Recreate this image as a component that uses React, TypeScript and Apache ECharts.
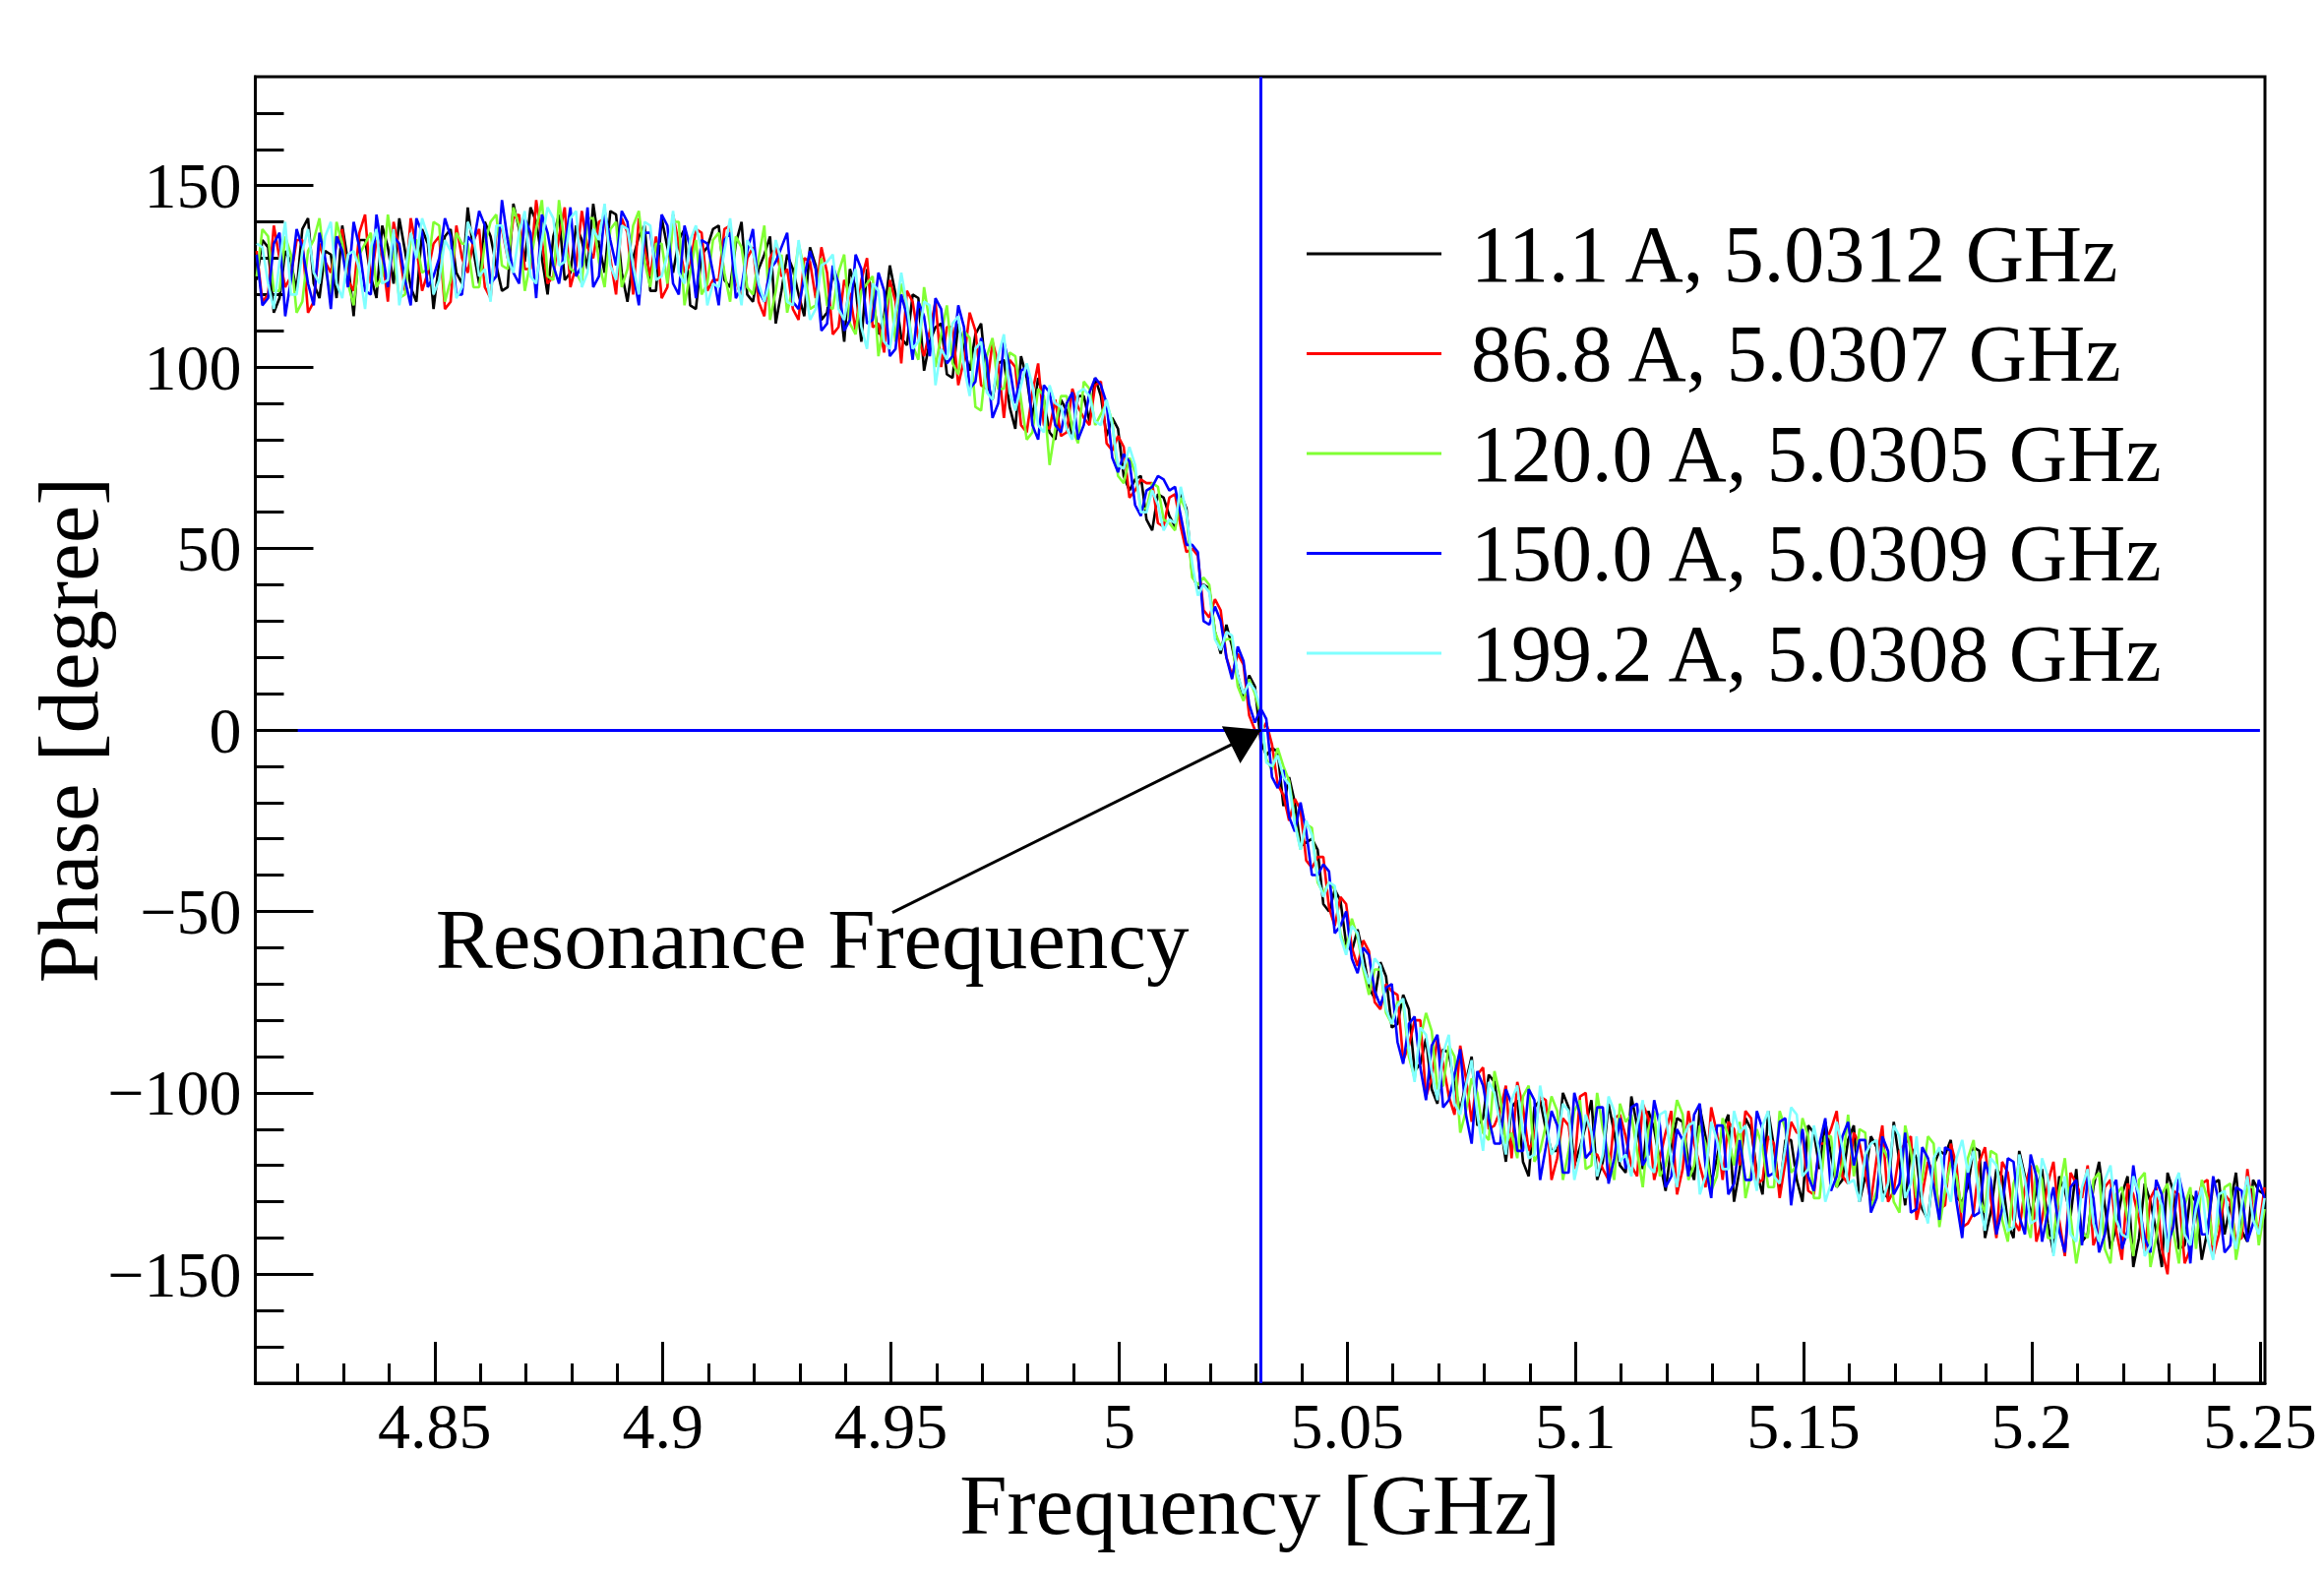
import React, { useEffect, useRef } from "react";
import * as echarts from "echarts";

// Frequency sweep grid (GHz): main samples at FREQ_START + i*FREQ_STEP,
// in-between samples at half a step further.
const FREQ_START = 4.811;
const FREQ_STEP = 0.0025;

const X_MIN = 4.8107;
const X_MAX = 5.2511;
const Y_MIN = -180;
const Y_MAX = 180;

const X_MAJOR = [4.85, 4.9, 4.95, 5, 5.05, 5.1, 5.15, 5.2, 5.25];
const Y_MAJOR = [-150, -100, -50, 0, 50, 100, 150];

const SERIES_NAMES = [
  "11.1 A, 5.0312 GHz",
  "86.8 A, 5.0307 GHz",
  "120.0 A, 5.0305 GHz",
  "150.0 A, 5.0309 GHz",
  "199.2 A, 5.0308 GHz",
];
const SERIES_COLORS = ["#000000", "#ff0000", "#80ff33", "#0000ff", "#80ffff"];

const RES_FREQ = 5.0311;
const ZERO_LINE_X = [4.82, 5.25];
const ARROW_TAIL = [4.9503, -50.3];
const ANNOT_POS = [4.8503, -57.8];
const ANNOT_TEXT = "Resonance Frequency";

// ---- 11.1 A (black)
const PHASE_11_1 = [
  124, 133, 119, 129, 138, 123, 132, 119, 129, 135,
  125, 139, 123, 132, 118, 134, 129, 138, 123, 132,
  140, 128, 122, 138, 144, 130, 136, 124, 139, 127,
  134, 143, 126, 130, 139, 121, 133, 135, 117, 131,
  138, 124, 134, 120, 127, 136, 121, 127, 114, 128,
  115, 121, 127, 107, 119, 114, 120, 106, 119, 107,
  112, 97, 105, 109, 96, 101, 89, 103, 86, 91,
  80, 88, 92, 85, 92, 86, 70, 69, 58, 65,
  59, 65, 43, 40, 27, 29, 15, 15, -3, -5,
  -21, -20, -31, -33, -50, -47, -61, -62, -74, -68,
  -81, -77, -92, -99, -88, -98, -97, -109, -95, -108,
  -104, -119, -104, -110, -116, -104, -115, -102, -119, -111,
  -122, -109, -105, -119, -115, -108, -124, -112, -118, -106,
  -121, -110, -128, -115, -113, -124, -109, -121, -117, -124,
  -109, -123, -115, -129, -119, -115, -132, -120, -117, -129,
  -126, -116, -133, -123, -140, -123, -127, -136, -123, -134,
  -141, -126, -131, -137, -123, -140, -130, -148, -127, -142,
  -130, -138, -124, -131, -138, -124, -128,
];
const PHASE_11_1_MID = [
  135, 115, 132, 121, 141, 119, 131, 139, 114, 135,
  119, 133, 141, 122, 138, 116, 136, 126, 144, 123,
  136, 121, 145, 129, 140, 120, 142, 126, 135, 145,
  126, 142, 118, 136, 121, 141, 126, 138, 116, 133,
  139, 122, 140, 118, 131, 112, 131, 120, 133, 113,
  126, 107, 122, 127, 109, 128, 108, 120, 99, 111,
  98, 112, 99, 112, 91, 102, 83, 97, 97, 82,
  91, 81, 92, 97, 81, 83, 66, 70, 55, 64,
  56, 61, 39, 39, 21, 23, 9, 12, -7, -6,
  -13, -32, -30, -48, -44, -59, -55, -71, -64, -82,
  -73, -94, -85, -103, -89, -105, -90, -107, -97, -119,
  -102, -123, -102, -116, -100, -120, -109, -124, -103, -120,
  -101, -121, -110, -127, -107, -119, -104, -125, -110, -130,
  -107, -122, -105, -127, -113, -130, -111, -108, -126, -113,
  -130, -112, -127, -108, -131, -118, -135, -116, -113, -130,
  -115, -140, -121, -136, -116, -134, -121, -144, -127, -121,
  -139, -119, -143, -128, -148, -125, -138, -122, -143, -128,
  -146, -125, -139, -122, -141, -127,
];

// ---- 86.8 A (red)
const PHASE_86_8 = [
  132, 120, 130, 125, 135, 118, 129, 134, 124, 137,
  123, 131, 140, 121, 133, 126, 136, 118, 130, 135,
  122, 137, 130, 142, 127, 135, 125, 144, 128, 133,
  140, 130, 141, 120, 133, 136, 122, 134, 128, 137,
  124, 138, 124, 130, 118, 130, 125, 116, 130, 119,
  126, 111, 120, 124, 111, 104, 118, 121, 108, 110,
  100, 111, 102, 110, 94, 101, 102, 84, 93, 84,
  91, 82, 89, 84, 96, 77, 78, 66, 68, 57,
  64, 56, 50, 33, 36, 20, 21, 4, -1, -4,
  -18, -19, -36, -35, -49, -46, -60, -58, -75, -70,
  -73, -87, -80, -96, -92, -106, -96, -95, -110, -105,
  -118, -104, -112, -102, -118, -109, -101, -117, -121, -107,
  -112, -123, -107, -118, -105, -121, -114, -126, -111, -108,
  -120, -107, -124, -114, -119, -111, -127, -114, -110, -123,
  -111, -122, -118, -130, -116, -112, -128, -122, -131, -120,
  -136, -119, -129, -119, -135, -126, -141, -125, -135, -122,
  -129, -142, -126, -138, -125, -135, -129, -143, -127, -147,
  -132, -124, -139, -130, -140, -133, -126,
];
const PHASE_86_8_MID = [
  118, 139, 122, 135, 115, 134, 126, 138, 121, 142,
  135, 118, 132, 141, 121, 134, 116, 139, 126, 138,
  119, 138, 141, 127, 146, 123, 136, 122, 143, 130,
  141, 120, 137, 141, 125, 119, 142, 126, 138, 121,
  124, 139, 119, 133, 114, 133, 127, 113, 129, 133,
  109, 124, 110, 130, 112, 124, 101, 118, 103, 118,
  111, 95, 115, 95, 107, 86, 100, 82, 101, 83,
  81, 94, 86, 95, 79, 81, 64, 69, 68, 56,
  65, 49, 48, 31, 33, 15, 18, 0, 2, -15,
  -25, -22, -38, -35, -54, -48, -65, -61, -77, -72,
  -91, -80, -101, -85, -101, -87, -108, -93, -109, -98,
  -97, -116, -101, -124, -107, -121, -100, -117, -124, -106,
  -120, -103, -124, -111, -128, -105, -120, -104, -124, -110,
  -105, -125, -112, -129, -108, -111, -128, -114, -105, -125,
  -114, -130, -109, -127, -114, -135, -119, -132, -114, -137,
  -133, -115, -140, -122, -138, -120, -135, -119, -145, -125,
  -120, -138, -124, -146, -128, -144, -126, -150, -128, -143,
  -125, -145, -128, -141, -121, -138,
];

// ---- 120.0 A (green)
const PHASE_120_0 = [
  125, 136, 121, 131, 118, 135, 127, 140, 123, 131,
  137, 125, 131, 120, 135, 127, 139, 124, 134, 122,
  134, 142, 127, 139, 129, 146, 124, 134, 126, 141,
  129, 138, 122, 139, 129, 134, 123, 140, 126, 120,
  135, 126, 136, 122, 130, 113, 131, 122, 127, 117,
  117, 126, 112, 121, 125, 113, 107, 117, 102, 112,
  109, 101, 110, 89, 103, 94, 104, 91, 82, 92,
  83, 92, 79, 94, 87, 85, 68, 71, 61, 67,
  57, 64, 42, 42, 27, 25, 12, 14, 4, -11,
  -10, -25, -26, -42, -42, -56, -52, -66, -66, -78,
  -75, -90, -85, -83, -98, -90, -105, -100, -113, -101,
  -111, -101, -119, -109, -105, -116, -102, -120, -110, -124,
  -108, -116, -110, -123, -112, -106, -120, -114, -123, -112,
  -108, -122, -115, -126, -110, -120, -112, -129, -112, -120,
  -123, -111, -127, -118, -133, -116, -124, -114, -127, -123,
  -118, -129, -116, -135, -125, -134, -120, -140, -127, -134,
  -138, -124, -143, -128, -135, -124, -148, -128, -138, -131,
  -143, -129, -135, -125, -137, -126, -132,
];
const PHASE_120_0_MID = [
  138, 121, 136, 115, 132, 141, 120, 134, 117, 134,
  122, 142, 119, 135, 126, 140, 118, 137, 134, 122,
  140, 128, 144, 121, 138, 125, 146, 127, 123, 141,
  122, 140, 127, 143, 122, 134, 140, 117, 135, 123,
  137, 118, 133, 120, 139, 121, 115, 134, 116, 130,
  116, 131, 109, 123, 103, 122, 123, 106, 122, 100,
  117, 98, 108, 88, 108, 94, 103, 80, 94, 73,
  92, 83, 96, 84, 90, 70, 75, 61, 68, 58,
  55, 60, 40, 40, 23, 25, 8, 10, -8, -5,
  -14, -33, -27, -45, -44, -61, -57, -73, -66, -81,
  -75, -96, -78, -99, -87, -111, -96, -111, -94, -114,
  -118, -98, -116, -101, -124, -105, -121, -100, -117, -103,
  -106, -126, -105, -120, -102, -124, -109, -127, -107, -120,
  -129, -110, -126, -105, -122, -107, -129, -112, -126, -106,
  -110, -132, -115, -130, -109, -129, -112, -137, -119, -133,
  -113, -133, -117, -141, -120, -140, -124, -140, -118, -147,
  -140, -122, -147, -126, -145, -122, -140, -125, -147, -126,
  -124, -142, -126, -146, -126, -142,
];

// ---- 150.0 A (blue)
const PHASE_150_0 = [
  131, 119, 137, 124, 133, 117, 130, 136, 122, 133,
  120, 132, 136, 124, 141, 122, 130, 136, 120, 134,
  139, 125, 135, 123, 137, 142, 128, 133, 125, 144,
  125, 135, 143, 126, 137, 127, 139, 120, 133, 135,
  126, 135, 119, 132, 121, 127, 133, 118, 125, 127,
  112, 123, 113, 127, 113, 121, 105, 114, 118, 103,
  116, 103, 111, 96, 102, 90, 100, 99, 84, 95,
  84, 90, 80, 93, 95, 75, 76, 62, 66, 70,
  66, 59, 51, 30, 34, 20, 23, 7, 6, -13,
  -11, -28, -28, -40, -39, -54, -63, -60, -72, -71,
  -86, -81, -93, -87, -104, -95, -106, -94, -107, -114,
  -103, -116, -102, -115, -109, -122, -106, -116, -104, -118,
  -121, -103, -117, -109, -123, -113, -106, -120, -109, -128,
  -113, -124, -110, -122, -107, -119, -123, -114, -127, -112,
  -120, -113, -129, -116, -125, -133, -115, -126, -115, -130,
  -121, -133, -124, -132, -119, -139, -123, -133, -138, -126,
  -142, -129, -139, -124, -138, -131, -144, -128, -137, -130,
  -127, -139, -130, -142, -127, -136, -129,
];
const PHASE_150_0_MID = [
  117, 134, 114, 138, 123, 137, 116, 132, 140, 121,
  142, 122, 134, 117, 137, 125, 141, 120, 136, 143,
  123, 146, 126, 141, 119, 137, 123, 144, 128, 122,
  143, 128, 140, 117, 137, 142, 123, 139, 119, 134,
  117, 137, 122, 138, 118, 129, 137, 116, 132, 110,
  128, 110, 131, 112, 126, 103, 120, 102, 114, 119,
  101, 117, 94, 108, 86, 107, 90, 100, 80, 93,
  82, 93, 84, 97, 90, 71, 74, 59, 67, 69,
  67, 51, 49, 29, 30, 14, 19, 2, 3, -16,
  -24, -20, -40, -37, -56, -50, -67, -62, -76, -70,
  -92, -79, -102, -84, -102, -88, -114, -98, -114, -99,
  -116, -99, -124, -105, -122, -100, -118, -104, -125, -107,
  -104, -120, -102, -126, -110, -123, -103, -129, -109, -125,
  -124, -105, -123, -108, -131, -110, -127, -107, -123, -108,
  -113, -133, -112, -128, -111, -132, -118, -135, -116, -140,
  -134, -119, -139, -118, -134, -117, -141, -126, -144, -124,
  -123, -144, -127, -143, -120, -140, -124, -142, -123, -147,
  -139, -123, -144, -126, -141, -124,
];

// ---- 199.2 A (cyan)
const PHASE_199_2 = [
  134, 123, 129, 120, 132, 126, 136, 123, 131, 127,
  133, 123, 138, 126, 130, 136, 124, 132, 122, 136,
  127, 139, 130, 137, 125, 135, 141, 129, 143, 126,
  135, 128, 139, 128, 140, 124, 131, 126, 135, 132,
  123, 132, 126, 135, 123, 124, 129, 117, 124, 116,
  129, 116, 122, 111, 123, 107, 115, 117, 107, 117,
  105, 112, 100, 105, 93, 103, 93, 95, 95, 82,
  90, 83, 93, 92, 84, 84, 72, 73, 60, 62,
  58, 67, 46, 40, 25, 27, 15, 13, 6, -10,
  -13, -26, -25, -41, -42, -57, -54, -65, -63, -77,
  -76, -88, -82, -94, -89, -103, -98, -106, -97, -109,
  -102, -111, -117, -107, -114, -105, -117, -111, -117, -105,
  -117, -109, -120, -106, -119, -113, -108, -123, -113, -121,
  -111, -119, -109, -123, -115, -106, -121, -117, -125, -115,
  -124, -117, -113, -125, -112, -125, -130, -118, -125, -118,
  -122, -130, -118, -129, -137, -124, -135, -123, -134, -139,
  -126, -136, -124, -135, -140, -128, -142, -131, -126, -139,
  -132, -140, -128, -137, -131, -135, -129,
];
const PHASE_199_2_MID = [
  133, 116, 140, 120, 138, 123, 140, 119, 132, 116,
  138, 124, 117, 137, 141, 120, 135, 119, 140, 125,
  118, 139, 126, 143, 123, 144, 128, 141, 122, 138,
  145, 124, 138, 120, 139, 125, 143, 123, 139, 117,
  122, 141, 117, 132, 118, 135, 118, 135, 113, 128,
  131, 113, 127, 105, 121, 105, 126, 105, 118, 95,
  102, 114, 92, 107, 91, 109, 88, 101, 84, 95,
  89, 80, 94, 85, 91, 73, 78, 60, 66, 55,
  57, 60, 37, 38, 22, 26, 10, 11, -9, -7,
  -15, -33, -29, -46, -43, -62, -56, -70, -65, -81,
  -74, -97, -84, -102, -84, -106, -91, -116, -100, -117,
  -98, -118, -98, -117, -103, -124, -106, -123, -101, -119,
  -123, -102, -122, -105, -126, -109, -128, -108, -121, -105,
  -109, -127, -105, -125, -104, -123, -109, -130, -108, -125,
  -130, -114, -130, -109, -129, -112, -136, -115, -130, -113,
  -116, -138, -120, -138, -117, -136, -118, -145, -123, -141,
  -121, -141, -120, -139, -123, -145, -127, -144, -122, -142,
  -126, -146, -127, -143, -123, -139,
];

const SERIES_MAIN = [PHASE_11_1, PHASE_86_8, PHASE_120_0, PHASE_150_0, PHASE_199_2];
const SERIES_MID = [PHASE_11_1_MID, PHASE_86_8_MID, PHASE_120_0_MID, PHASE_150_0_MID, PHASE_199_2_MID];

const FONT = '"Liberation Serif", "Times New Roman", Times, serif';

function round5(v: number): number {
  return Math.round(v * 100000) / 100000;
}

function buildPoints(main: number[], mid: number[]): number[][] {
  const pts: number[][] = [];
  for (let i = 0; i < main.length; i++) {
    pts.push([round5(FREQ_START + i * FREQ_STEP), main[i]]);
    if (i < mid.length) {
      pts.push([round5(FREQ_START + (i + 0.5) * FREQ_STEP), mid[i]]);
    }
  }
  return pts;
}

function minorX(): number[] {
  const out: number[] = [];
  for (let k = 482; k <= 525; k++) {
    if (k % 5 !== 0) out.push(k / 100);
  }
  return out;
}
function minorY(): number[] {
  const out: number[] = [];
  for (let v = -170; v <= 170; v += 10) {
    if (v % 50 !== 0) out.push(v);
  }
  return out;
}

export default function App() {
  const ref = useRef<HTMLDivElement | null>(null);

  useEffect(() => {
    if (!ref.current) return;
    const chart = echarts.init(ref.current, null, { renderer: "svg" });

    const tickStyle = { color: "#000", width: 3 };

    const dataSeries = SERIES_MAIN.map((vals, s) => ({
      name: SERIES_NAMES[s],
      type: "line",
      xAxisIndex: 0,
      yAxisIndex: 0,
      showSymbol: false,
      symbol: "none",
      silent: true,
      color: SERIES_COLORS[s],
      itemStyle: { color: SERIES_COLORS[s] },
      lineStyle: { color: SERIES_COLORS[s], width: 2.6 },
      data: buildPoints(vals, SERIES_MID[s]),
    }));

    const annotSeries = {
      name: "annotations",
      type: "line",
      xAxisIndex: 0,
      yAxisIndex: 0,
      silent: true,
      data: [],
      markLine: {
        silent: true,
        symbol: ["none", "none"],
        label: { show: false },
        animation: false,
        data: [
          [
            { coord: [ZERO_LINE_X[0], 0], lineStyle: { color: "#0000ff", width: 3, type: "solid" } },
            { coord: [ZERO_LINE_X[1], 0] },
          ],
          [
            { coord: [RES_FREQ, Y_MIN], lineStyle: { color: "#0000ff", width: 3, type: "solid" } },
            { coord: [RES_FREQ, Y_MAX] },
          ],
          [
            {
              coord: ARROW_TAIL,
              symbol: "none",
              lineStyle: { color: "#000000", width: 3, type: "solid" },
            },
            {
              coord: [RES_FREQ, 0],
              symbol: "triangle",
              symbolSize: [42, 34],
              symbolOffset: [0, 17],
              itemStyle: { color: "#000000" },
            },
          ],
        ],
      },
      markPoint: {
        silent: true,
        symbol: "circle",
        symbolSize: 1,
        itemStyle: { color: "rgba(0,0,0,0)" },
        label: {
          show: true,
          position: [0, 0],
          align: "left",
          verticalAlign: "middle",
          formatter: ANNOT_TEXT,
          fontSize: 87,
          fontFamily: FONT,
          color: "#000",
        },
        data: [{ coord: ANNOT_POS }],
      },
    };

    chart.setOption({
      animation: false,
      backgroundColor: "#ffffff",
      textStyle: { fontFamily: FONT },
      grid: {
        left: 259.5,
        right: 60,
        top: 78,
        bottom: 194,
        show: true,
        borderColor: "#000",
        borderWidth: 3,
        backgroundColor: "rgba(0,0,0,0)",
        containLabel: false,
      },
      legend: {
        orient: "vertical",
        left: 1328,
        top: 217,
        padding: 0,
        itemWidth: 137,
        itemHeight: 3,
        itemGap: 19.5,
        icon: "rect",
        selectedMode: false,
        data: SERIES_NAMES,
        textStyle: {
          fontSize: 82,
          lineHeight: 80,
          fontFamily: FONT,
          color: "#000",
          padding: [0, 0, 0, 25],
        },
      },
      xAxis: [
        {
          type: "value",
          min: X_MIN,
          max: X_MAX,
          position: "bottom",
          name: "Frequency [GHz]",
          nameLocation: "middle",
          nameGap: 80,
          nameMoveOverlap: false,
          nameTextStyle: { fontSize: 87, fontFamily: FONT, color: "#000" },
          axisLine: { show: true, onZero: false, lineStyle: { color: "#000", width: 3 } },
          axisTick: { show: true, inside: true, length: 42, lineStyle: tickStyle, customValues: X_MAJOR },
          axisLabel: {
            show: true,
            customValues: X_MAJOR,
            margin: 10,
            fontSize: 66,
            fontFamily: FONT,
            color: "#000",
            formatter: (v: number) => String(Math.round(v * 100) / 100),
          },
          splitLine: { show: false },
        },
        {
          type: "value",
          min: X_MIN,
          max: X_MAX,
          position: "bottom",
          axisLine: { show: false, onZero: false },
          axisTick: { show: true, inside: true, length: 20, lineStyle: tickStyle, customValues: minorX() },
          axisLabel: { show: false },
          splitLine: { show: false },
        },
      ],
      yAxis: [
        {
          type: "value",
          min: Y_MIN,
          max: Y_MAX,
          position: "left",
          name: "Phase [degree]",
          nameLocation: "middle",
          nameGap: 147,
          nameMoveOverlap: false,
          nameTextStyle: { fontSize: 87, fontFamily: FONT, color: "#000" },
          axisLine: { show: true, onZero: false, lineStyle: { color: "#000", width: 3 } },
          axisTick: { show: true, inside: true, length: 59, lineStyle: tickStyle, customValues: Y_MAJOR },
          axisLabel: {
            show: true,
            customValues: Y_MAJOR,
            margin: 14,
            fontSize: 66,
            fontFamily: FONT,
            color: "#000",
            formatter: (v: number) => (v < 0 ? "\u2212" + Math.abs(v) : String(v)),
          },
          splitLine: { show: false },
        },
        {
          type: "value",
          min: Y_MIN,
          max: Y_MAX,
          position: "left",
          axisLine: { show: false, onZero: false },
          axisTick: { show: true, inside: true, length: 29, lineStyle: tickStyle, customValues: minorY() },
          axisLabel: { show: false },
          splitLine: { show: false },
        },
      ],
      series: [...dataSeries, annotSeries],
    });

    return () => {
      chart.dispose();
    };
  }, []);

  return (
    <div
      ref={ref}
      style={{
        position: "absolute",
        left: 0,
        top: 0,
        width: "2362px",
        height: "1600px",
        background: "#ffffff",
      }}
    />
  );
}
